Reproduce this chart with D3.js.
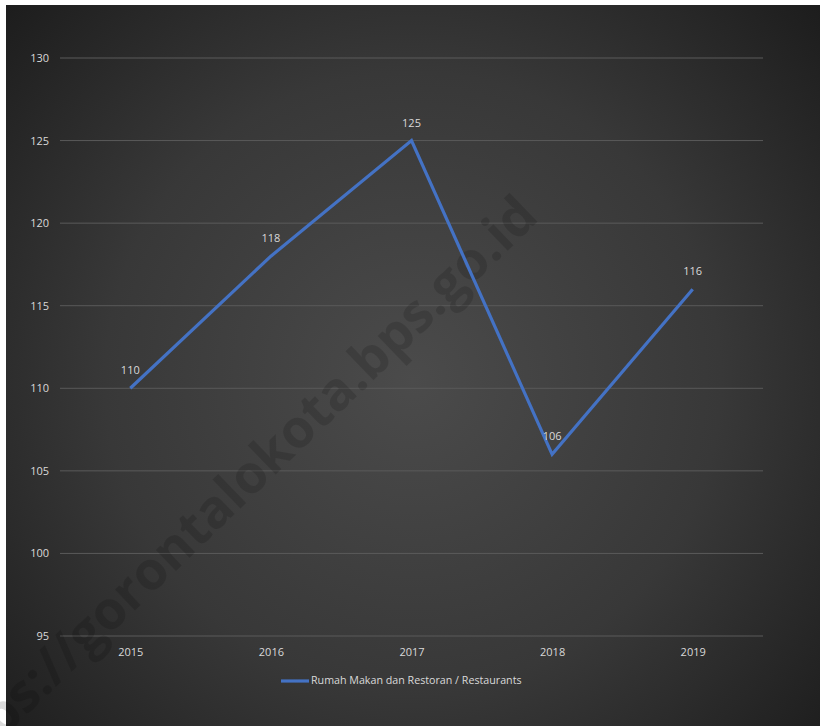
<!DOCTYPE html>
<html><head><meta charset="utf-8">
<script src="https://cdn.jsdelivr.net/npm/d3@7"></script>
<style>
html,body{margin:0;padding:0;background:#fff;}
svg{display:block;}
text{font-family:"Open Sans","Noto Sans",sans-serif;}
</style></head>
<body>
<svg id="chart" width="820" height="726"></svg>
<script>
const years = ["2015","2016","2017","2018","2019"];
const values = [110,118,125,106,116];
const yTicks = [95,100,105,110,115,120,125,130];
const seriesName = "Rumah Makan dan Restoran / Restaurants";
const watermark = "https://gorontalokota.bps.go.id";

const svg = d3.select("#chart");
const W = 820, H = 726;
const defs = svg.append("defs");
const grad = defs.append("radialGradient").attr("id","bg")
  .attr("gradientUnits","userSpaceOnUse")
  .attr("cx",413).attr("cy",380).attr("r",560);
grad.append("stop").attr("offset","0%").attr("stop-color","#4b4b4b");
grad.append("stop").attr("offset","55%").attr("stop-color","#383838");
grad.append("stop").attr("offset","100%").attr("stop-color","#1c1c1c");

svg.append("rect").attr("x",6).attr("y",5).attr("width",W-6).attr("height",H-5).attr("fill","url(#bg)");

const x = d3.scalePoint().domain(years).range([60,763]).padding(0.5);
const y = d3.scaleLinear().domain([95,130]).range([636,58]);

// gridlines
svg.append("g").selectAll("line").data(yTicks).join("line")
  .attr("x1",60).attr("x2",763)
  .attr("y1",d=>y(d)).attr("y2",d=>y(d))
  .attr("stroke","#5a5a5a").attr("stroke-width",1);

// y axis labels
const yAxis = d3.axisLeft(y).tickValues(yTicks).tickSize(0).tickPadding(0);
const gy = svg.append("g").attr("transform","translate(49,0)").call(yAxis);
gy.select(".domain").remove();
gy.selectAll("text").attr("fill","#d9d9d9").attr("font-size","11px");

// x axis labels
const xAxis = d3.axisBottom(x).tickSize(0).tickPadding(0);
const gx = svg.append("g").attr("transform","translate(0,648)").call(xAxis);
gx.select(".domain").remove();
gx.selectAll("text").attr("fill","#d9d9d9").attr("font-size","11px").attr("dy","0");
gx.selectAll("text").attr("dominant-baseline","middle").attr("y",5);

// watermark
svg.append("text").attr("transform","translate(232,497) rotate(-44)")
  .attr("text-anchor","middle").attr("dominant-baseline","middle")
  .attr("font-family","'Liberation Sans',Arial,sans-serif")
  .attr("font-weight","bold").attr("font-size","53px")
  .attr("fill","rgba(0,0,0,0.14)").text(watermark);

// line
const line = d3.line().x((d,i)=>x(years[i])).y(d=>y(d));
svg.append("path").datum(values).attr("d",line)
  .attr("fill","none").attr("stroke","#4472c4").attr("stroke-width",3.2)
  .attr("stroke-linejoin","miter");

// data labels
svg.append("g").selectAll("text").data(values).join("text")
  .attr("x",(d,i)=>x(years[i])).attr("y",d=>y(d)-17)
  .attr("text-anchor","middle").attr("dominant-baseline","middle")
  .attr("fill","#d9d9d9").attr("font-size","11px").text(d=>d);

// legend
const lg = svg.append("g");
lg.append("line").attr("x1",281).attr("x2",309).attr("y1",681).attr("y2",681)
  .attr("stroke","#4472c4").attr("stroke-width",3.2);
lg.append("text").attr("x",311).attr("y",681).attr("dominant-baseline","middle")
  .attr("fill","#d9d9d9").attr("font-size","10.7px").text(seriesName);
</script>
</body></html>
